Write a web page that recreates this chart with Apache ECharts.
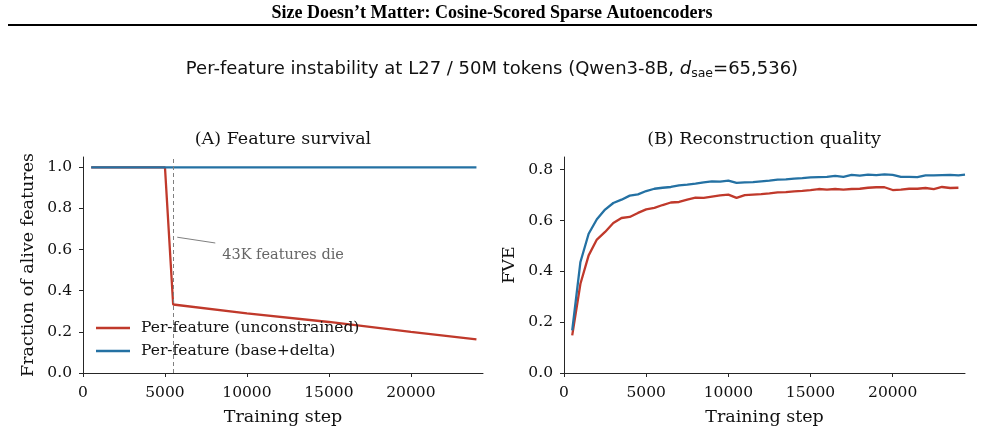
<!DOCTYPE html>
<html>
<head>
<meta charset="utf-8">
<script src="https://cdn.jsdelivr.net/npm/echarts@6/dist/echarts.min.js"></script>
<style>html,body{margin:0;padding:0;background:#fff;}#c{width:985px;height:432px;}</style>
</head>
<body>
<div id="c"></div>
<script>
// ---------- data ----------
const xTickValues = [0, 5000, 10000, 15000, 20000];
const survivalYTicks = [0, 0.2, 0.4, 0.6, 0.8, 1.0];
const fveYTicks = [0, 0.2, 0.4, 0.6, 0.8];

const survivalSteps = [500, 5000, 5500, 10000, 15000, 20000, 24000];
const survivalUnconstrained = [1.0, 1.0, 0.333, 0.290, 0.248, 0.200, 0.163];
const survivalBaseDelta = [1.0, 1.0, 1.0, 1.0, 1.0, 1.0, 1.0];

const dieStep = 5500;

const fveStepsUnc = [500,1000,1500,2000,2500,3000,3500,4000,4500,5000,5500,6000,6500,7000,7500,8000,8500,9000,9500,10000,10500,11000,11500,12000,12500,13000,13500,14000,14500,15000,15500,16000,16500,17000,17500,18000,18500,19000,19500,20000,20500,21000,21500,22000,22500,23000,23500,24000];
const fveUnc = [0.148,0.351,0.463,0.525,0.555,0.590,0.610,0.614,0.630,0.644,0.650,0.661,0.671,0.673,0.682,0.690,0.689,0.694,0.699,0.702,0.689,0.700,0.702,0.704,0.707,0.711,0.712,0.715,0.717,0.720,0.724,0.722,0.724,0.722,0.724,0.725,0.729,0.731,0.731,0.720,0.722,0.725,0.725,0.728,0.724,0.732,0.728,0.729];

const fveStepsBase = [500,1000,1500,2000,2500,3000,3500,4000,4500,5000,5500,6000,6500,7000,7500,8000,8500,9000,9500,10000,10500,11000,11500,12000,12500,13000,13500,14000,14500,15000,15500,16000,16500,17000,17500,18000,18500,19000,19500,20000,20500,21000,21500,22000,22500,23000,23500,24000,24400];
const fveBase = [0.168,0.437,0.548,0.605,0.643,0.669,0.682,0.698,0.703,0.716,0.725,0.729,0.732,0.738,0.741,0.745,0.750,0.754,0.753,0.757,0.748,0.750,0.751,0.754,0.757,0.761,0.762,0.765,0.767,0.770,0.771,0.772,0.776,0.772,0.780,0.777,0.781,0.779,0.782,0.780,0.772,0.772,0.771,0.778,0.778,0.779,0.780,0.778,0.781];

const names = ['Per-feature (unconstrained)', 'Per-feature (base+delta)'];
const RED = '#c0392b', BLUE = '#2471a3';

// ---------- chart ----------
const zip = (xs, ys) => xs.map((x, i) => [x, ys[i]]);
const SERIF = 'DejaVu Serif';
const AX = '#262626';

function xAxis(gi) {
  return {
    type: 'value', gridIndex: gi, min: 0, max: 24400,
    name: 'Training step', nameLocation: 'middle', nameGap: 35,
    nameTextStyle: { fontFamily: SERIF, fontSize: 17.5, color: '#111' },
    axisLine: { show: true, lineStyle: { color: AX, width: 1 } },
    axisTick: { show: true, length: 4, lineStyle: { color: AX }, customValues: xTickValues },
    axisLabel: { fontFamily: SERIF, fontSize: 15.5, color: '#111', margin: 12, customValues: xTickValues,
      formatter: v => String(v) },
    splitLine: { show: false }
  };
}
function yAxis(gi, max, ticks, name) {
  return {
    type: 'value', gridIndex: gi, min: 0, max: max,
    name: name, nameLocation: 'middle', nameGap: 46,
    nameTextStyle: { fontFamily: SERIF, fontSize: 17.5, color: '#111' },
    axisLine: { show: true, lineStyle: { color: AX, width: 1 } },
    axisTick: { show: true, length: 4, lineStyle: { color: AX }, customValues: ticks },
    axisLabel: { fontFamily: SERIF, fontSize: 15.5, color: '#111', margin: 11, customValues: ticks,
      formatter: v => v.toFixed(1) },
    splitLine: { show: false }
  };
}

const chart = echarts.init(document.getElementById('c'), null, { renderer: 'canvas' });
chart.setOption({
  backgroundColor: '#fff',
  animation: false,
  title: [
    { text: 'Size Doesn\u2019t Matter: Cosine-Scored Sparse Autoencoders', left: 492, top: 4, textAlign: 'center', padding: 0,
      textStyle: { fontFamily: 'Liberation Serif', fontWeight: 'bold', fontSize: 18, color: '#000' } },
    { text: 'Per-feature instability at L27 / 50M tokens (Qwen3-8B, {i|d}{s|sae}=65,536)', left: 492, top: 59, textAlign: 'center', padding: 0,
      textStyle: { fontFamily: 'DejaVu Sans', fontWeight: 'normal', fontSize: 18, color: '#111',
        rich: { i: { fontFamily: 'DejaVu Sans', fontStyle: 'italic', fontSize: 18, color: '#111' },
                s: { fontFamily: 'DejaVu Sans', fontSize: 12.5, color: '#111', verticalAlign: 'bottom', padding: [8, 0, 0, 0] } } } },
    { text: '(A) Feature survival', left: 283, top: 130, textAlign: 'center', padding: 0,
      textStyle: { fontFamily: SERIF, fontSize: 17.5, fontWeight: 'normal', color: '#111' } },
    { text: '(B) Reconstruction quality', left: 764, top: 130, textAlign: 'center', padding: 0,
      textStyle: { fontFamily: SERIF, fontSize: 17.5, fontWeight: 'normal', color: '#111' } }
  ],
  graphic: [
    { type: 'line', shape: { x1: 8, y1: 25, x2: 977, y2: 25 }, style: { stroke: '#000', lineWidth: 2 } }
  ],
  grid: [
    { left: 83, top: 157, width: 400, height: 216 },
    { left: 564, top: 157, width: 401, height: 216 }
  ],
  legend: {
    data: names, orient: 'vertical', left: 96, top: 320, padding: 0, itemWidth: 34, itemHeight: 2.5, itemGap: 7, icon: 'rect',
    textStyle: { fontFamily: SERIF, fontSize: 15.5, color: '#111', padding: [0, 0, 0, 6] },
    selectedMode: false
  },
  xAxis: [xAxis(0), xAxis(1)],
  yAxis: [yAxis(0, 1.05, survivalYTicks, 'Fraction of alive features'), yAxis(1, 0.85, fveYTicks, 'FVE')],
  series: [
    { name: names[0], type: 'line', xAxisIndex: 0, yAxisIndex: 0, data: zip(survivalSteps, survivalUnconstrained),
      symbol: 'none', lineStyle: { color: RED, width: 2.3 }, itemStyle: { color: RED },
      markLine: { silent: true, symbol: 'none', animation: false,
        label: { show: false },
        data: [
          { xAxis: dieStep, lineStyle: { type: [4, 3], color: '#808080', width: 1 } },
          [ { coord: [5750, 0.66], lineStyle: { type: 'solid', color: '#808080', width: 1 } }, { coord: [8070, 0.632] } ]
        ] },
      markPoint: { silent: true, symbol: 'circle', symbolSize: 0, animation: false,
        label: { show: true, position: 'right', distance: 0, formatter: '43K features die',
          fontFamily: SERIF, fontSize: 14.5, color: '#666' },
        data: [ { coord: [8490, 0.573] } ] }
    },
    { name: names[1], type: 'line', xAxisIndex: 0, yAxisIndex: 0, data: zip(survivalSteps, survivalBaseDelta),
      symbol: 'none', lineStyle: { color: BLUE, width: 2.3 }, itemStyle: { color: BLUE } },
    { name: names[0], type: 'line', xAxisIndex: 1, yAxisIndex: 1, data: zip(fveStepsUnc, fveUnc),
      symbol: 'none', lineStyle: { color: RED, width: 2.3 }, itemStyle: { color: RED } },
    { name: names[1], type: 'line', xAxisIndex: 1, yAxisIndex: 1, data: zip(fveStepsBase, fveBase),
      symbol: 'none', lineStyle: { color: BLUE, width: 2.3 }, itemStyle: { color: BLUE } }
  ]
});
</script>
</body>
</html>
